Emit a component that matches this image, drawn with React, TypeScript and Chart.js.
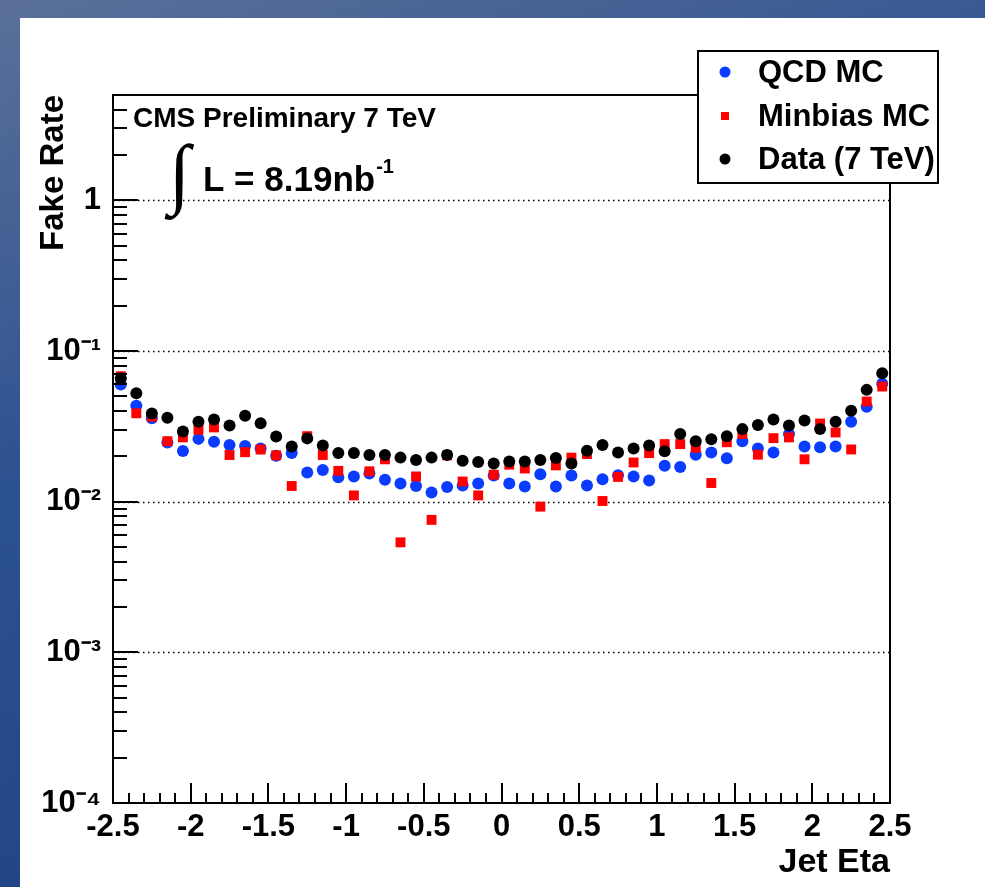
import React, { useEffect, useRef } from "react";
import { Chart, registerables } from "chart.js";

Chart.register(...registerables);

const W = 985;
const H = 887;

const etaBins = [
  -2.45, -2.35, -2.25, -2.15, -2.05, -1.95, -1.85, -1.75, -1.65, -1.55,
  -1.45, -1.35, -1.25, -1.15, -1.05, -0.95, -0.85, -0.75, -0.65, -0.55,
  -0.45, -0.35, -0.25, -0.15, -0.05, 0.05, 0.15, 0.25, 0.35, 0.45,
  0.55, 0.65, 0.75, 0.85, 0.95, 1.05, 1.15, 1.25, 1.35, 1.45,
  1.55, 1.65, 1.75, 1.85, 1.95, 2.05, 2.15, 2.25, 2.35, 2.45,
];

const qcdMC = [
  0.060, 0.0433, 0.0358, 0.0247, 0.0217, 0.0261, 0.0250, 0.0238, 0.0234, 0.0225,
  0.0202, 0.0210, 0.0156, 0.0162, 0.0145, 0.0147, 0.0154, 0.0140, 0.0132, 0.0127,
  0.0115, 0.0125, 0.0128, 0.0132, 0.0149, 0.0132, 0.0126, 0.0152, 0.0126, 0.0149,
  0.0128, 0.0141, 0.0150, 0.0147, 0.0138, 0.0173, 0.0170, 0.0205, 0.0212, 0.0194,
  0.0252, 0.0225, 0.0212, 0.0281, 0.0232, 0.0230, 0.0232, 0.0339, 0.0426, 0.0607,
];

const minbiasMC = [
  0.068, 0.0386, 0.0366, 0.0252, 0.0267, 0.0300, 0.0311, 0.0204, 0.0213, 0.0222,
  0.0203, 0.0127, 0.0272, 0.0204, 0.0160, 0.0110, 0.0159, 0.0191, 0.00537, 0.0147,
  0.00757, 0.0203, 0.0136, 0.0110, 0.0151, 0.0176, 0.0166, 0.00927, 0.0174, 0.0196,
  0.0207, 0.0101, 0.0146, 0.0182, 0.0210, 0.0241, 0.0241, 0.0228, 0.0133, 0.0248,
  0.0281, 0.0205, 0.0264, 0.0267, 0.0191, 0.0330, 0.0288, 0.0222, 0.0462, 0.0581,
];

const data7TeV = [
  0.066, 0.0525, 0.0385, 0.0360, 0.0292, 0.0339, 0.0351, 0.0320, 0.0372, 0.0332,
  0.0271, 0.0232, 0.0263, 0.0236, 0.0210, 0.0210, 0.0204, 0.0204, 0.0196, 0.0189,
  0.0196, 0.0204, 0.0187, 0.0183, 0.0179, 0.0185, 0.0185, 0.0189, 0.0195, 0.0179,
  0.0218, 0.0238, 0.0212, 0.0225, 0.0236, 0.0216, 0.0281, 0.0252, 0.0260, 0.0272,
  0.0303, 0.0323, 0.0351, 0.0320, 0.0346, 0.0303, 0.0339, 0.0401, 0.0552, 0.0711,
];

const seriesNames = ["QCD MC", "Minbias MC", "Data (7 TeV)"];
const seriesColors = ["#0a3cff", "#ff0000", "#000000"];

const yDecades = [1e-4, 1e-3, 1e-2, 1e-1, 1];
const yTickLabels = ["10\u207B\u2074", "10\u207B\u00B3", "10\u207B\u00B2", "10\u207B\u00B9", "1"];
const xTickValues = [-2.5, -2, -1.5, -1, -0.5, 0, 0.5, 1, 1.5, 2, 2.5];
const xTickLabels = ["-2.5", "-2", "-1.5", "-1", "-0.5", "0", "0.5", "1", "1.5", "2", "2.5"];

const yMin = 1e-4;
const yMax = 5;
const xMin = -2.5;
const xMax = 2.5;

const FONT = "'Liberation Sans', Arial, Helvetica, sans-serif";

const rootStyle = {
  id: "rootStyle",
  beforeDatasetsDraw(chart: any) {
    const { ctx, chartArea: a, scales } = chart;
    const y = scales.y;
    ctx.save();
    ctx.strokeStyle = "#000";
    ctx.lineWidth = 1.4;
    ctx.setLineDash([1.5, 3.5]);
    for (const v of yDecades) {
      if (v === yMin) continue;
      const py = Math.round(y.getPixelForValue(v)) + 0.5;
      ctx.beginPath();
      ctx.moveTo(a.left, py);
      ctx.lineTo(a.right, py);
      ctx.stroke();
    }
    ctx.restore();
  },
  afterDraw(chart: any) {
    const { ctx, chartArea: a, scales } = chart;
    const x = scales.x;
    const y = scales.y;
    ctx.save();
    ctx.strokeStyle = "#000";
    ctx.lineWidth = 2;
    ctx.setLineDash([]);

    // y ticks (inside the frame)
    for (let d = -4; d <= 0; d++) {
      for (let k = 1; k <= 9; k++) {
        const v = k * Math.pow(10, d);
        if (v > yMax) break;
        const py = Math.round(y.getPixelForValue(v));
        const len = k === 1 ? 25 : 14;
        ctx.beginPath();
        ctx.moveTo(a.left, py);
        ctx.lineTo(a.left + len, py);
        ctx.stroke();
      }
    }
    // x ticks (inside the frame)
    for (let m = -25; m <= 25; m++) {
      const px = Math.round(x.getPixelForValue(m / 10));
      const len = m % 5 === 0 ? 20 : 10;
      ctx.beginPath();
      ctx.moveTo(px, a.bottom);
      ctx.lineTo(px, a.bottom - len);
      ctx.stroke();
    }
    // frame
    ctx.strokeRect(a.left, a.top, a.right - a.left, a.bottom - a.top);

    // annotations
    ctx.fillStyle = "#000";
    ctx.textAlign = "left";
    ctx.textBaseline = "alphabetic";
    ctx.font = `bold 28px ${FONT}`;
    ctx.fillText("CMS Preliminary 7 TeV", a.left + 20, a.top + 32);

    ctx.font = `78px 'Liberation Serif', 'DejaVu Serif', serif`;
    ctx.textBaseline = "middle";
    ctx.fillText("\u222B", a.left + 56, a.top + 84);

    ctx.textBaseline = "alphabetic";
    ctx.font = `bold 35px ${FONT}`;
    const main = "L = 8.19nb";
    ctx.fillText(main, a.left + 90, a.top + 96);
    const mw = ctx.measureText(main).width;
    ctx.font = `bold 20px ${FONT}`;
    ctx.fillText("-1", a.left + 90 + mw + 1, a.top + 78);

    // legend
    const lx = a.left + 585;
    const ly = a.top - 44;
    const lw = 240;
    const lh = 132;
    ctx.fillStyle = "#fff";
    ctx.fillRect(lx, ly, lw, lh);
    ctx.strokeStyle = "#000";
    ctx.lineWidth = 2;
    ctx.strokeRect(lx, ly, lw, lh);
    const rows = [21, 65, 108];
    seriesNames.forEach((name, i) => {
      const cy = ly + rows[i];
      const cx = lx + 27;
      ctx.fillStyle = seriesColors[i];
      if (i === 1) {
        ctx.fillRect(cx - 4, cy - 4, 8, 8);
      } else {
        ctx.beginPath();
        ctx.arc(cx, cy, 5.5, 0, Math.PI * 2);
        ctx.fill();
      }
      ctx.fillStyle = "#000";
      ctx.font = `bold 31px ${FONT}`;
      ctx.textBaseline = "middle";
      ctx.fillText(name, lx + 60, cy + 1);
    });
    ctx.restore();
  },
};

function ChartCanvas() {
  const ref = useRef<HTMLCanvasElement | null>(null);
  useEffect(() => {
    if (!ref.current) return;
    const mk = (vals: number[]) => etaBins.map((e, i) => ({ x: e, y: vals[i] }));
    const chart = new Chart(ref.current, {
      type: "scatter",
      data: {
        datasets: [
          {
            label: seriesNames[0],
            data: mk(qcdMC),
            backgroundColor: seriesColors[0],
            borderColor: seriesColors[0],
            pointStyle: "circle",
            pointRadius: 6,
            pointBorderWidth: 0,
            order: 3,
          },
          {
            label: seriesNames[1],
            data: mk(minbiasMC),
            backgroundColor: seriesColors[1],
            borderColor: seriesColors[1],
            pointStyle: "rect",
            pointRadius: 7,
            pointBorderWidth: 0,
            order: 2,
          },
          {
            label: seriesNames[2],
            data: mk(data7TeV),
            backgroundColor: seriesColors[2],
            borderColor: seriesColors[2],
            pointStyle: "circle",
            pointRadius: 6,
            pointBorderWidth: 0,
            order: 1,
          },
        ],
      },
      options: {
        animation: false,
        responsive: false,
        events: [],
        layout: { padding: { left: 0, top: 95, right: 95, bottom: 0 } },
        plugins: {
          legend: { display: false },
          tooltip: { enabled: false },
        },
        scales: {
          x: {
            type: "linear",
            min: xMin,
            max: xMax,
            afterFit: (s: any) => {
              s.height = 84;
            },
            afterBuildTicks: (s: any) => {
              s.ticks = xTickValues.map((v) => ({ value: v }));
            },
            grid: { display: false, drawTicks: false },
            border: { display: false },
            ticks: {
              autoSkip: false,
              maxRotation: 0,
              padding: 6,
              color: "#000",
              font: { family: FONT, size: 31, weight: "bold" },
              callback: (_v: any, i: number) => xTickLabels[i],
            },
            title: {
              display: true,
              text: "Jet Eta",
              align: "end",
              color: "#000",
              font: { family: FONT, size: 34, weight: "bold" },
              padding: { top: 0, bottom: 4 },
            },
          },
          y: {
            type: "logarithmic",
            min: yMin,
            max: yMax,
            afterFit: (s: any) => {
              s.width = 113;
            },
            afterBuildTicks: (s: any) => {
              s.ticks = yDecades.map((v) => ({ value: v }));
            },
            grid: { display: false, drawTicks: false },
            border: { display: false },
            ticks: {
              autoSkip: false,
              padding: 12,
              color: "#000",
              font: { family: FONT, size: 31, weight: "bold" },
              callback: (_v: any, i: number) => yTickLabels[i],
            },
            title: {
              display: true,
              text: "Fake Rate",
              align: "end",
              color: "#000",
              font: { family: FONT, size: 33, weight: "bold" },
              padding: { top: 34, bottom: 0 },
            },
          },
        },
      },
      plugins: [rootStyle],
    } as any);
    return () => chart.destroy();
  }, []);
  return (
    <canvas
      ref={ref}
      width={W}
      height={H}
      style={{ position: "absolute", left: 0, top: 0, width: W, height: H }}
    />
  );
}

export default function App() {
  return (
    <div
      style={{
        position: "absolute",
        left: 0,
        top: 0,
        width: W,
        height: H,
        overflow: "hidden",
        background: "linear-gradient(160deg, #5a7099 0%, #2c5190 40%, #1b3b80 100%)",
      }}
    >
      <div
        style={{
          position: "absolute",
          left: 20,
          top: 18,
          right: 0,
          bottom: 0,
          background: "#ffffff",
        }}
      />
      <ChartCanvas />
    </div>
  );
}
